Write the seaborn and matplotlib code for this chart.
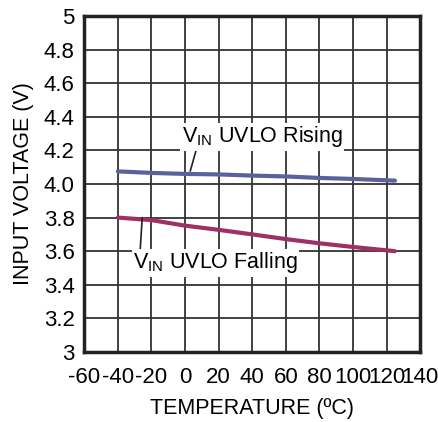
import numpy as np
import pandas as pd
import seaborn as sns
import matplotlib.pyplot as plt

temp = [-40, -20, 0, 20, 40, 60, 80, 100, 125]
rising = [4.075, 4.066, 4.060, 4.057, 4.050, 4.045, 4.036, 4.030, 4.020]
falling = [3.800, 3.785, 3.752, 3.727, 3.700, 3.672, 3.647, 3.625, 3.600]

x_ticks = [-60, -40, -20, 0, 20, 40, 60, 80, 100, 120, 140]
y_ticks = [3, 3.2, 3.4, 3.6, 3.8, 4.0, 4.2, 4.4, 4.6, 4.8, 5]
y_labels = ['3', '3.2', '3.4', '3.6', '3.8', '4.0', '4.2', '4.4', '4.6', '4.8', '5']

sns.set_style('white')
plt.rcParams['font.family'] = ['Liberation Sans', 'DejaVu Sans']
plt.rcParams['mathtext.fontset'] = 'custom'
plt.rcParams['mathtext.rm'] = 'Liberation Sans'
plt.rcParams['mathtext.it'] = 'Liberation Sans'
plt.rcParams['axes.unicode_minus'] = False
for k in ['text.color', 'axes.labelcolor', 'xtick.color', 'ytick.color']:
    plt.rcParams[k] = 'black'

df = pd.DataFrame({'temp': temp + temp,
                   'volt': rising + falling,
                   'curve': ['rising'] * len(temp) + ['falling'] * len(temp)})

fig, ax = plt.subplots(figsize=(4.39, 4.22), dpi=100)
fig.subplots_adjust(left=0.192, right=0.957, top=0.962, bottom=0.166)

sns.lineplot(data=df, x='temp', y='volt', hue='curve',
             palette={'rising': '#5a629e', 'falling': '#9e3068'},
             linewidth=3, legend=False, ax=ax, zorder=3)

ax.set_xlim(-60, 140)
ax.set_ylim(3, 5)
ax.set_xticks(x_ticks)
ax.set_yticks(y_ticks)
ax.set_yticklabels(y_labels)
ax.grid(True, color='#333333', linewidth=1.3)
ax.tick_params(length=0, labelsize=16)
ax.tick_params(axis='x', pad=11)
ax.tick_params(axis='y', pad=7)
for s in ax.spines.values():
    s.set_visible(True)
    s.set_color('#222222')
    s.set_linewidth(2.5)

ax.set_xlabel('TEMPERATURE (ºC)', fontsize=15.5, labelpad=7)
ax.set_ylabel('INPUT VOLTAGE (V)', fontsize=15.5, labelpad=7)

# annotations with leader lines
ax.plot([6.7, 3.1], [4.205, 4.077], color='#222222', linewidth=1.2, zorder=4)
ax.text(46, 4.28, r'$\mathrm{V_{IN}}$ UVLO Rising', fontsize=15.5, ha='center', va='center',
        bbox=dict(facecolor='white', edgecolor='none', pad=1), zorder=5)
ax.plot([-25.5, -26.7], [3.80, 3.607], color='#222222', linewidth=1.2, zorder=4)
ax.text(18, 3.53, r'$\mathrm{V_{IN}}$ UVLO Falling', fontsize=15.5, ha='center', va='center',
        bbox=dict(facecolor='white', edgecolor='none', pad=1), zorder=5)

plt.savefig('out.png', dpi=100)
